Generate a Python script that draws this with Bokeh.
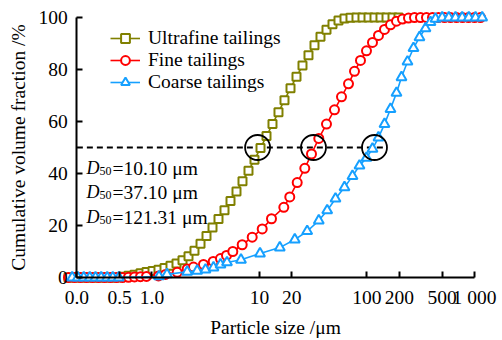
from bokeh.plotting import figure
from bokeh.models import Range1d, FixedTicker, Legend, LegendItem, Label
from bokeh.embed import file_html
from bokeh.resources import INLINE

# ---------------- data ----------------
ultra_x = [0.1672, 0.1901, 0.2162, 0.2459, 0.2796, 0.3179, 0.3615, 0.4111, 0.4675, 0.5316,
           0.6045, 0.6874, 0.7817, 0.8889, 1.011, 1.149, 1.307, 1.486, 1.690, 1.922,
           2.186, 2.485, 2.827, 3.214, 3.655, 4.156, 4.726, 5.374, 6.110, 6.948,
           7.901, 8.984, 10.22, 11.62, 13.21, 15.02, 17.08, 19.43, 22.09, 25.12,
           28.56, 32.48, 36.93, 42.00, 47.76, 54.31, 61.76, 70.22, 79.85, 90.8,
           103.3, 117.4, 133.5, 151.9, 172.7, 196.4]
ultra_y = [0, 0, 0, 0, 0, 0, 0, 0, 0, 0.3,
           0.7, 1.1, 1.6, 2.1, 2.5, 3.0, 3.7, 4.5, 5.4, 6.6,
           8.2, 10.3, 13.0, 16.0, 19.2, 22.5, 25.9, 29.4, 33.1, 37.0,
           41.1, 45.3, 49.8, 54.4, 59.0, 63.6, 68.2, 72.8, 77.2, 81.5,
           85.5, 89.3, 92.6, 95.3, 97.4, 98.8, 99.6, 99.9, 100, 100,
           100, 100, 100, 100, 100, 100]

fine_x = [0.1672, 0.1901, 0.2162, 0.2459, 0.2796, 0.3179, 0.3615, 0.4111, 0.4675, 0.5316,
          0.6045, 0.6874, 0.7817, 0.8889, 1.149, 1.335, 1.716, 2.126, 2.432, 3.013,
          3.710, 4.337, 4.932, 5.645, 6.903, 8.554, 10.60, 12.93, 16.83, 19.13,
          22.43, 26.39, 30.46, 35.61, 42.00, 49.85, 57.92, 67.30, 76.50, 86.99,
          98.92, 112.5, 127.9, 145.5, 165.4, 188.1, 213.9, 243.2, 276.6, 314.5,
          357.6, 406.7, 462.4, 525.9, 598.0, 680.1, 773.3, 879.4, 1000, 1137]
fine_y = [0, 0, 0, 0, 0, 0, 0, 0, 0, 0,
          0.1, 0.2, 0.3, 0.4, 0.6, 1.2, 2.0, 3.3, 4.0, 5.0,
          6.2, 7.3, 8.5, 10.0, 12.6, 15.5, 18.7, 22.6, 27.0, 31.0,
          36.5, 42.0, 47.5, 53.5, 59.0, 64.5, 69.5, 74.5, 79.3, 83.5,
          87.2, 90.4, 93.1, 95.4, 97.2, 98.6, 99.4, 99.8, 100, 100,
          100, 100, 100, 100, 100, 100, 100, 100, 100, 100]

coarse_x = [0.1810, 0.2041, 0.2320, 0.2638, 0.2981, 0.3368, 0.3831, 0.4318, 0.4911, 1.162,
            1.379, 2.126, 2.633, 3.146, 3.734, 4.337, 4.985, 6.729, 10.11, 15.45,
            21.30, 27.78, 35.61, 42.64, 50.93, 61.76, 73.31, 85.15, 98.92, 112.5,
            127.9, 145.5, 165.4, 188.1, 209.4, 238.1, 270.7, 307.8, 350.1, 389.6,
            433.7, 500.7, 576.8, 665.7, 768.4, 885.1, 1022, 1179]
coarse_y = [0, 0, 0, 0, 0, 0, 0, 0, 0, 0.4,
            1.2, 2.2, 2.6, 3.0, 3.8, 5.0, 5.8, 6.8, 9.2, 11.5,
            14.6, 17.8, 21.9, 25.8, 30.3, 34.7, 39.0, 43.0, 46.0, 49.5,
            53.8, 59.0, 64.8, 71.0, 77.0, 83.0, 88.2, 92.4, 95.8, 98.2,
            99.5, 100, 100, 100, 100, 100, 100, 100]

series_names = ["Ultrafine tailings", "Fine tailings", "Coarse tailings"]
d50_labels = ["10.10", "37.10", "121.31"]
d50_circle_x = [9.6, 31.8, 117.4]     # centres of the marking circles as drawn
d50_level = 50
dash_x = [0.2, 148.6]

x_ticks = [0.2, 0.5, 1.0, 10.0, 20.0, 100.0, 200.0, 500.0, 1000.0]
x_tick_labels = ["0.0", "0.5", "1.0", "10", "20", "100", "200", "500", "1 000"]
y_ticks = [0, 20, 40, 60, 80, 100]

# ---------------- styling ----------------
FONT = "Liberation Serif"
FS = "19.5px"
OLIVE = "#808000"
RED = "#FF0000"
BLUE = "#16A0FF"

# the frame fills the whole canvas; the axes sit at fixed data locations
p = figure(width=502, height=340, x_axis_type="log",
           x_range=Range1d(0.03897, 1822), y_range=Range1d(-24.23, 106.54),
           output_backend="svg", toolbar_location=None,
           min_border_left=0, min_border_right=0, min_border_top=0, min_border_bottom=0)
p.outline_line_color = None
p.grid.visible = False
p.background_fill_color = "white"
p.border_fill_color = "white"

for ax in (p.xaxis[0], p.yaxis[0]):
    ax.axis_line_width = 2
    ax.major_tick_line_width = 2
    ax.major_tick_in = 6
    ax.major_tick_out = 0
    ax.minor_tick_line_color = None
    ax.major_label_text_font = FONT
    ax.major_label_text_font_size = FS
    ax.major_label_text_color = "black"
    ax.axis_label_text_font = FONT
    ax.axis_label_text_font_size = FS
    ax.axis_label_text_font_style = "normal"
    ax.axis_label_text_color = "black"

xa = p.xaxis[0]
xa.fixed_location = 0
xa.bounds = (0.2, 1000)
xa.ticker = FixedTicker(ticks=x_ticks)
xa.major_label_overrides = {t: l for t, l in zip(x_ticks, x_tick_labels)}
xa.axis_label = "Particle size /\u03bcm"
xa.major_label_standoff = 9
xa.axis_label_standoff = 6

ya = p.yaxis[0]
ya.fixed_location = 0.2
ya.bounds = (0, 100)
ya.ticker = FixedTicker(ticks=y_ticks)
ya.axis_label = "Cumulative volume fraction /%"
ya.major_label_standoff = 9
ya.axis_label_standoff = 6

# reference dashed line and circles
p.line(dash_x, [d50_level, d50_level], line_color="black", line_width=1.8, line_dash="6 4")

items = []
for xs, ys, col, mk, sz, name in [
    (ultra_x, ultra_y, OLIVE, "square", 8, series_names[0]),
    (fine_x, fine_y, RED, "circle", 9, series_names[1]),
    (coarse_x, coarse_y, BLUE, "triangle", 10, series_names[2]),
]:
    lr = p.line(xs, ys, line_color=col, line_width=1.6)
    sr = p.scatter(xs, ys, marker=mk, size=sz, line_color=col, line_width=2,
                   fill_color="white")
    items.append(LegendItem(label=name, renderers=[lr, sr]))

p.scatter(d50_circle_x, [d50_level] * 3, marker="circle", size=25,
          fill_color=None, line_color="black", line_width=1.8)

legend = Legend(items=items, location=(110, 247), orientation="vertical",
                border_line_color=None, background_fill_alpha=0,
                label_text_font=FONT, label_text_font_size=FS, label_text_color="black",
                glyph_width=30, glyph_height=22, label_height=22,
                label_standoff=8, spacing=0, padding=0, margin=0)
p.add_layout(legend, "center")

# D50 annotations
base_y = [42.0, 32.8, 23.2]
for lab, yy in zip(d50_labels, base_y):
    p.add_layout(Label(x=0.2459, y=yy, text="D", text_font=FONT, text_font_size="18px",
                       text_font_style="italic", text_baseline="alphabetic",
                       text_color="black"))
    p.add_layout(Label(x=0.2459, y=yy, x_offset=13, y_offset=-2.5, text="50",
                       text_font=FONT, text_font_size="12px", text_baseline="alphabetic",
                       text_color="black"))
    p.add_layout(Label(x=0.2459, y=yy, x_offset=26, text="=" + lab + " \u03bcm",
                       text_font=FONT, text_font_size="19.5px", text_baseline="alphabetic",
                       text_color="black"))

open("out.html", "w").write(file_html(p, INLINE))
